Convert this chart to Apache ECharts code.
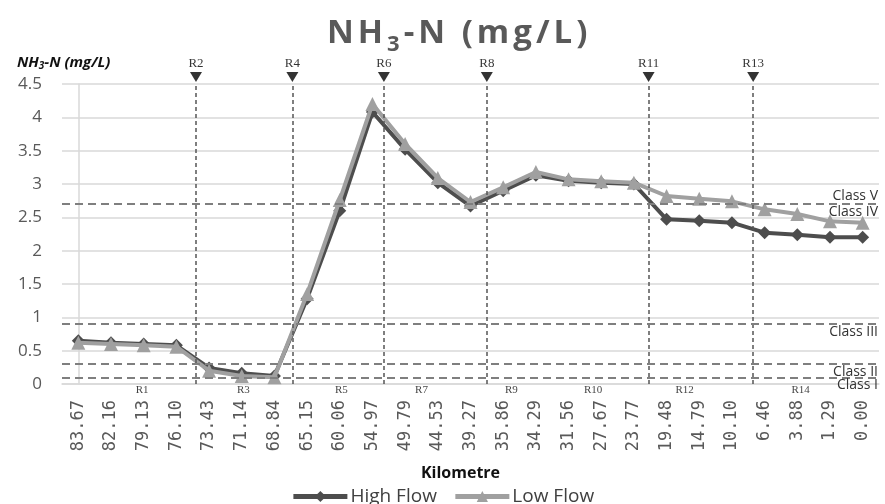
<!DOCTYPE html>
<html>
<head>
<meta charset="utf-8">
<script src="https://cdn.jsdelivr.net/npm/echarts@6/dist/echarts.min.js"></script>
<style>html,body{margin:0;padding:0;background:#fff}#c{width:885px;height:504px}</style>
</head>
<body>
<div id="c"></div>
<script>
// ---- data ----
const km = ['83.67','82.16','79.13','76.10','73.43','71.14','68.84','65.15','60.06','54.97','49.79','44.53','39.27','35.86','34.29','31.56','27.67','23.77','19.48','14.79','10.10','6.46','3.88','1.29','0.00'];
const highFlow = [0.65,0.62,0.60,0.58,0.24,0.16,0.12,1.28,2.60,4.08,3.52,3.02,2.67,2.90,3.13,3.05,3.02,3.00,2.47,2.45,2.42,2.27,2.24,2.20,2.20];
const lowFlow  = [0.62,0.60,0.58,0.56,0.20,0.12,0.10,1.35,2.76,4.20,3.60,3.09,2.73,2.95,3.18,3.07,3.04,3.02,2.82,2.78,2.74,2.62,2.55,2.44,2.42];
// reservoir / reach markers (position in category-index units)
const topMarkNames = ['R2','R4','R6','R8','R11','R13'];
const topMarkPos   = [3.6, 6.55, 9.35, 12.5, 17.45, 20.65];
const reachNames = ['R1','R3','R5','R7','R9','R10','R12','R14'];
const reachPos   = [1.95, 5.05, 8.05, 10.5, 13.25, 15.75, 18.55, 22.1];
// water quality class limits
const classNames  = ['Class V','Class IV','Class III','Class II','Class I'];
const classValues = [2.7, 2.7, 0.9, 0.3, 0.1];
const classLabelPos = ['insideEndTop','insideEndBottom','insideEndBottom','insideEndBottom','insideEndBottom'];
const yTicks = {min: 0, max: 4.5, interval: 0.5};
const titleMain = ['N','H','3','-','N',' ','(','m','g','/','L',')'];
const titleSubIndex = 2;

const chart = echarts.init(document.getElementById('c'));
const serif = '"Liberation Serif", "DejaVu Serif", serif';
const sans = '"Open Sans", "Noto Sans", sans-serif';

const titleText = titleMain.map((ch, i) => (i === titleSubIndex ? '{s|' : '{a|') + ch + '}').join('');

chart.setOption({
  animation: false,
  title: [
    {
      text: titleText,
      left: 320,
      top: 7,
      textStyle: {
        rich: {
          a: {fontFamily: sans, fontSize: 33, fontWeight: 'bold', color: '#595959', padding: [0, 2, 0, 2]},
          s: {fontFamily: sans, fontSize: 22, fontWeight: 'bold', color: '#595959', padding: [22, 2, 0, 2]}
        }
      }
    },
    {
      text: '{a|NH}{s|3}{a|-N (mg/L)}',
      left: 12,
      top: 49,
      textStyle: {
        rich: {
          a: {fontFamily: sans, fontSize: 15, fontWeight: 'bold', fontStyle: 'italic', color: '#111'},
          s: {fontFamily: sans, fontSize: 10, fontWeight: 'bold', fontStyle: 'italic', color: '#111', padding: [7, 0, 0, 0]}
        }
      }
    }
  ],
  legend: {
    data: ['High Flow', 'Low Flow'],
    top: 482,
    left: 'center',
    itemWidth: 54,
    itemHeight: 14,
    itemGap: 16,
    lineStyle: {width: 5},
    textStyle: {fontFamily: sans, fontSize: 19, color: '#404040', padding: [0, 0, 0, -2]}
  },
  grid: {left: 62, right: 6, top: 84, bottom: 120},
  xAxis: [
    {
      type: 'category',
      data: km,
      boundaryGap: true,
      axisLine: {lineStyle: {color: '#d9d9d9', width: 1.5}},
      axisTick: {show: false},
      axisLabel: {rotate: 90, fontFamily: '"DejaVu Sans Mono", monospace', fontSize: 17, color: '#595959', margin: 16},
      name: 'Kilometre',
      nameLocation: 'middle',
      nameGap: 81,
      nameTextStyle: {fontFamily: sans, fontSize: 16, fontWeight: 'bold', color: '#111', padding: [0, 20, 0, 0]}
    },
    {
      type: 'value',
      min: -0.5,
      max: km.length - 0.5,
      show: false
    }
  ],
  yAxis: {
    type: 'value',
    min: yTicks.min,
    max: yTicks.max,
    interval: yTicks.interval,
    axisLine: {show: true, lineStyle: {color: '#d9d9d9', width: 1.5}},
    axisTick: {show: false},
    axisLabel: {fontFamily: sans, fontSize: 17, color: '#595959', margin: 20},
    splitLine: {lineStyle: {color: '#d9d9d9', width: 1.5}}
  },
  series: [
    {
      name: 'markers',
      type: 'scatter',
      xAxisIndex: 1,
      z: 1,
      silent: true,
      symbol: 'triangle',
      symbolRotate: 180,
      symbolSize: [12, 10],
      symbolOffset: [0, -7],
      itemStyle: {color: '#000'},
      label: {show: true, position: 'top', distance: 2, formatter: p => topMarkNames[p.dataIndex], fontFamily: serif, fontSize: 13, color: '#000'},
      data: topMarkPos.map(x => [x, yTicks.max]),
      clip: false,
      markLine: {
        silent: true,
        symbol: 'none',
        animation: false,
        data: [
          ...topMarkPos.map(x => ({xAxis: x, lineStyle: {color: '#555', width: 1.5, type: [4, 3]}, label: {show: false}})),
          ...classValues.map((v, i) => ({
            yAxis: v,
            lineStyle: {color: '#7f7f7f', width: 2, type: [8, 5]},
            label: {show: true, position: classLabelPos[i], formatter: classNames[i], fontFamily: sans, fontSize: 14, color: '#333', distance: [1, 1]}
          }))
        ]
      }
    },
    {
      name: 'High Flow',
      type: 'line',
      data: highFlow,
      z: 3,
      symbol: 'diamond',
      symbolSize: 13,
      lineStyle: {color: '#4d4d4d', width: 4},
      itemStyle: {color: '#4d4d4d'}
    },
    {
      name: 'Low Flow',
      type: 'line',
      data: lowFlow,
      z: 4,
      symbol: 'triangle',
      symbolSize: 14,
      lineStyle: {color: '#a0a0a0', width: 4},
      itemStyle: {color: '#a0a0a0'}
    },
    {
      name: 'reaches',
      type: 'scatter',
      xAxisIndex: 1,
      z: 5,
      silent: true,
      symbolSize: 0,
      label: {show: true, position: 'bottom', distance: 1, formatter: p => reachNames[p.dataIndex], fontFamily: serif, fontSize: 11, color: '#111'},
      data: reachPos.map(x => [x, 0]),
      clip: false
    }
  ]
});
</script>
</body>
</html>
